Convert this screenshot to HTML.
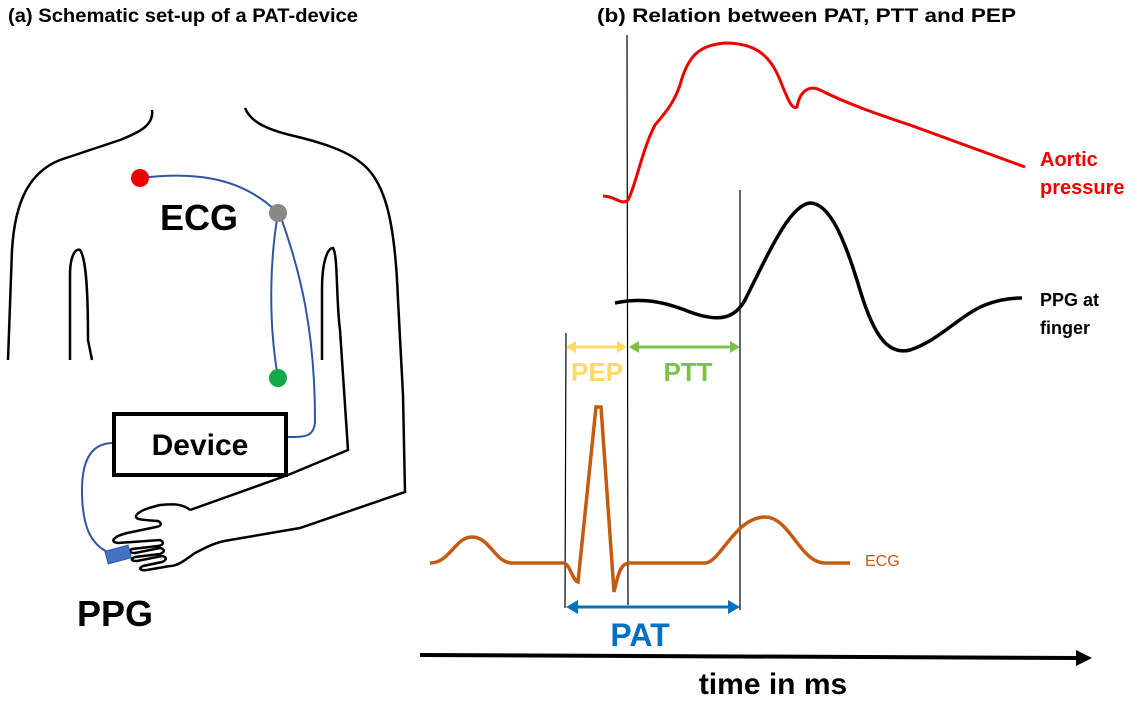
<!DOCTYPE html>
<html><head><style>body{margin:0;background:#fff}svg{display:block}</style></head><body>
<svg width="1132" height="702" viewBox="0 0 1132 702" xmlns="http://www.w3.org/2000/svg" font-family="Liberation Sans, sans-serif">
<text x="8" y="22" font-size="19" font-weight="bold" textLength="350" lengthAdjust="spacingAndGlyphs">(a) Schematic set-up of a PAT-device</text>
<text x="597" y="22" font-size="19" font-weight="bold" textLength="419" lengthAdjust="spacingAndGlyphs">(b) Relation between PAT, PTT and PEP</text>
<g fill="none" stroke="#000" stroke-width="2.5">
<path d="M152,110 C154,125 140,132 120,140 L60,160 C30,172 15,200 12,250 L8,360"/>
<path d="M70,360 L70,275 C70,255 76,248 80,250 C86,258 88,290 88,340 L92,360"/>
<path d="M245,108 C250,120 262,128 290,135 C320,142 345,150 360,162 C385,180 395,220 398,300 L403,395 L405,492 L300,528 L230,540 C215,542 205,548 195,553 C185,560 178,566 170,566"/>
<path d="M322,360 L322,290 C322,260 328,248 333,248 C338,255 336,300 340,330 L348,450 L288,475 L190,510"/>
<path d="M190,510 C182,503 170,504 160,505 C148,508 138,511 136,516 C135,520 145,520 158,521 C162,523 162,526 156,527 L127,533 C112,537 110,542 118,543 L160,540 C164,542 164,545 158,546 L132,549 C128,551 130,553 135,553 L160,548 C165,549 165,552 160,554 L135,557 C130,559 131,561 137,561 L162,556 C167,557 167,560 162,562 L143,566 C138,568 140,571 147,570 L170,566"/>
</g>
<g fill="none" stroke="#2f55a0" stroke-width="2">
<path d="M140,178 C190,172 240,175 278,213"/>
<path d="M278,213 C270,260 268,320 278,378"/>
<path d="M280,215 C300,270 315,330 315,420 C315,437 305,437 288,437"/>
<path d="M113,443 C95,443 82,455 82,490 C82,525 90,545 110,553"/>
</g>
<circle cx="140" cy="178" r="9" fill="#e00"/>
<circle cx="278" cy="213" r="9" fill="#888"/>
<circle cx="278" cy="378" r="9" fill="#1a4"/>
<rect x="106" y="548" width="24" height="13" fill="#4472c4" stroke="#2f55a0" transform="rotate(-15 118 554)"/>
<rect x="114" y="414" width="172" height="61" fill="#fff" stroke="#000" stroke-width="4"/>
<text x="200" y="455" font-size="30" font-weight="bold" text-anchor="middle">Device</text>
<text x="160" y="230" font-size="36" font-weight="bold">ECG</text>
<text x="77" y="626" font-size="36" font-weight="bold">PPG</text>
<g stroke="#000" stroke-width="1.2">
<line x1="627" y1="35" x2="628" y2="605"/>
<line x1="740" y1="190" x2="740" y2="610"/>
<line x1="566" y1="333" x2="565" y2="608"/>
</g>
<path d="M603,196 C615,196 622,206 628,200 C636,185 642,150 655,125 C668,110 675,100 680,85 C688,55 700,45 725,43 C755,43 770,55 780,80 C788,100 792,110 797,107 C800,90 810,85 820,90 C850,105 880,115 910,125 L1025,167" fill="none" stroke="#e00" stroke-width="3"/>
<path d="M615,303 C640,298 660,300 690,312 C720,323 735,318 745,300 C770,250 790,205 810,203 C830,203 845,240 860,290 C875,340 890,355 910,350 C940,340 960,315 985,305 C1000,299 1015,298 1022,298" fill="none" stroke="#000" stroke-width="3.5"/>
<path d="M430,563 C450,563 455,537 472,537 C490,537 495,563 512,563 L563,563 C570,563 572,580 578,582 L596,407 L601,407 L614,592 C618,575 620,563 630,563 L705,563 C720,563 735,517 765,517 C790,517 800,563 825,563 L850,563" fill="none" stroke="#c55a11" stroke-width="3.5"/>
<text x="865" y="566" font-size="16" fill="#c55a11">ECG</text>
<text x="1040" y="166" font-size="20" font-weight="bold" fill="#e00">Aortic</text>
<text x="1040" y="194" font-size="20" font-weight="bold" fill="#e00">pressure</text>
<text x="1040" y="306" font-size="18" font-weight="bold">PPG at</text>
<text x="1040" y="334" font-size="18" font-weight="bold">finger</text>
<g stroke-width="3">
<line x1="570" y1="347" x2="623" y2="347" stroke="#ffd966"/>
<path d="M566,347 l10,-6 v12z M627,347 l-10,-6 v12z" fill="#ffd966" stroke="none"/>
<line x1="631" y1="347" x2="736" y2="347" stroke="#7dc242"/>
<path d="M629,347 l10,-6 v12z M740,347 l-10,-6 v12z" fill="#7dc242" stroke="none"/>
<line x1="570" y1="607" x2="736" y2="607" stroke="#0070c0"/>
<path d="M566,607 l12,-7 v14z M740,607 l-12,-7 v14z" fill="#0070c0" stroke="none"/>
</g>
<text x="597" y="381" font-size="26" font-weight="bold" fill="#ffd966" text-anchor="middle">PEP</text>
<text x="688" y="381" font-size="26" font-weight="bold" fill="#7dc242" text-anchor="middle">PTT</text>
<text x="640" y="646" font-size="32" font-weight="bold" fill="#0070c0" text-anchor="middle">PAT</text>
<line x1="420" y1="655" x2="1078" y2="658" stroke="#000" stroke-width="4"/>
<path d="M1092,658 l-16,-8 v16z" fill="#000"/>
<text x="773" y="694" font-size="30" font-weight="bold" text-anchor="middle">time in ms</text>
</svg>
</body></html>
